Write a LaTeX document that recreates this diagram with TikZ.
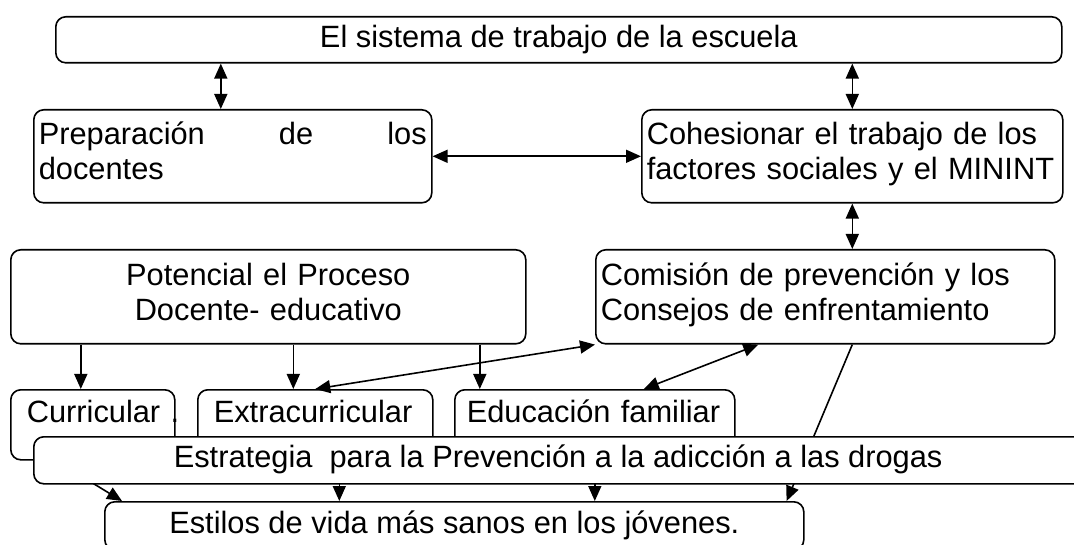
\documentclass[tikz,border=0pt]{standalone}
\usepackage{fontspec}
\setmainfont{Liberation Sans}
\usetikzlibrary{arrows.meta,positioning}
\hyphenpenalty=10000

\tikzset{every picture/.style={line width=1.6pt}}
\tikzset{
  caja/.style={draw, fill=white, rounded corners=10pt, anchor=north west, inner ysep=0pt},
  unalinea/.style={text height=22pt, text depth=7pt},
  doslineas/.style={caja, minimum height=93pt, inner xsep=5pt, text height=22pt, text depth=45pt},
  fila/.style={caja, minimum height=70pt, align=left, text height=22pt, text depth=26pt},
  punta/.tip={Triangle[length=15pt,width=13pt]},
  flecha/.style={-punta},
  doble/.style={punta-punta}
}

\begin{document}
\begin{tikzpicture}[x=1pt,y=1pt,yscale=-1,xscale=1,font=\fontsize{30.8}{35}\selectfont]
\useasboundingbox (0,0) rectangle (1074,545);

% Upper boxes
\node[caja, unalinea, minimum width=1006pt, minimum height=46pt] (escuela) at (55,16) {El sistema de trabajo de la escuela};
\node[doslineas, minimum width=398pt, text width=388pt, align=left] (docentes) at (33,109) {Preparación\hfill de\hfill los\\docentes};
\node[doslineas, minimum width=421pt, text width=411pt, align=left] (cohesion) at (641,109) {Cohesionar el trabajo de los\\factores sociales y el MININT};
\node[doslineas, minimum width=515pt, minimum height=94pt, text width=505pt, align=center] (potencial) at (10,249) {Potencial el Proceso\\Docente- educativo};
\node[doslineas, minimum width=459pt, minimum height=94pt, text width=449pt, align=left] (comision) at (595,249) {Comisión de prevención y los\\Consejos de enfrentamiento};

% Lower boxes
\node[fila, minimum width=164pt, inner xsep=16pt, text width=132pt] (curricular) at (10,389) {Curricular~.};
\node[fila, minimum width=235pt, inner xsep=16pt, text width=203pt] (extra) at (197,389) {Extracurricular};
\node[fila, minimum width=280pt, inner xsep=12pt, text width=256pt] (educacion) at (454,389) {Educación familiar};
\node[caja, unalinea, minimum width=699pt, minimum height=48pt] (estilos) at (104,501) {Estilos de vida más sanos en los jóvenes.};

% Connectors
\draw[doble] ([xshift=-12pt]docentes.north |- escuela.south) -- ([xshift=-12pt]docentes.north);
\draw[doble] (cohesion.north |- escuela.south) -- (cohesion.north);
\draw[doble] (docentes.east) -- (cohesion.west);
\draw[doble] (cohesion.south) -- (cohesion.south |- comision.north);
\draw[flecha] ([xshift=-12pt]curricular.north |- potencial.south) -- ([xshift=-12pt]curricular.north);
\draw[flecha] ([xshift=-22pt]extra.north |- potencial.south) -- ([xshift=-22pt]extra.north);
\draw[flecha] ([xshift=-115pt]educacion.north |- potencial.south) -- ([xshift=-115pt]educacion.north);
\draw[doble] (comision.south west) -- (extra.north);
\draw[doble] ([xshift=-67pt]comision.south) -- ([xshift=49pt]educacion.north);
\draw[flecha] ([xshift=27pt]comision.south) -- ([xshift=-18pt]estilos.north east);
\draw[flecha] ([xshift=-37pt]curricular.south) -- ([xshift=18pt]estilos.north west);
\draw[flecha] ([xshift=24pt]extra.south) -- ([xshift=24pt]extra.south |- estilos.north);
\draw[flecha] (educacion.south) -- (educacion.south |- estilos.north);

% Strategy band on top
\node[caja, minimum width=1100pt, minimum height=47pt] (estrategia) at (33,436) {};
\node[unalinea, inner sep=0pt, anchor=west, right=140pt of estrategia.west] (estrategiatexto) {Estrategia~ para la Prevención a la adicción a las drogas};

\end{tikzpicture}
\end{document}
